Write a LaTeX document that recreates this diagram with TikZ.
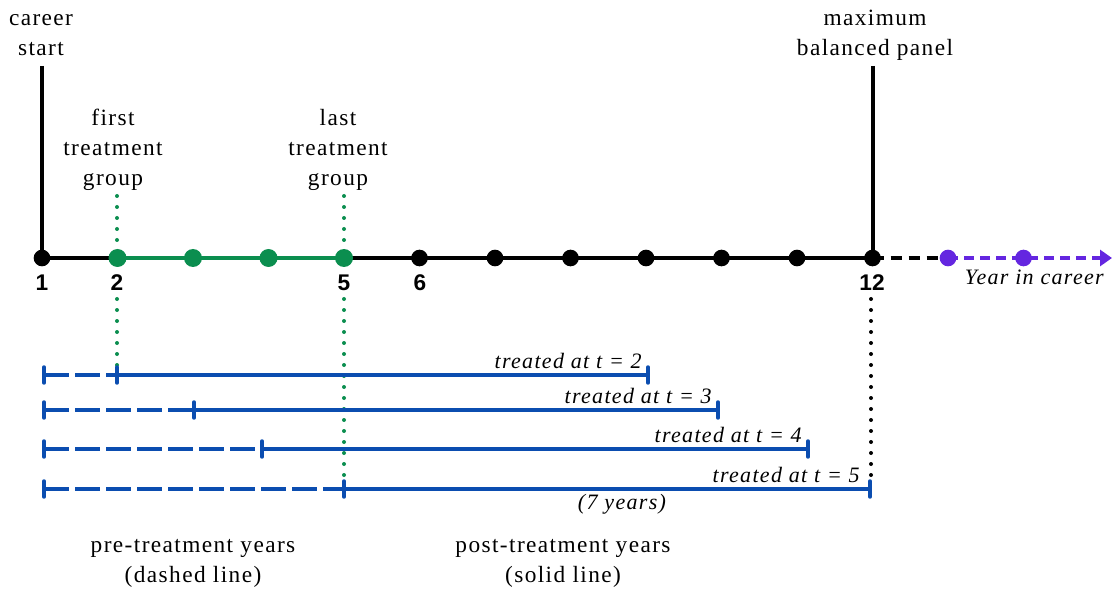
\documentclass[tikz,border=0pt]{standalone}
\usepackage{fontspec}
\setmainfont[LetterSpace=6]{Liberation Serif}
\setsansfont{Liberation Sans}
\usetikzlibrary{arrows.meta, calc, positioning}
\definecolor{TGreen}{HTML}{0B8E4F}
\definecolor{TBlue}{HTML}{0B4DB0}
\definecolor{TPurple}{HTML}{6426E0}

\begin{document}
\begin{tikzpicture}[x=0.75pt, y=-0.75pt,
  lbl/.style={font=\fontsize{17.5}{22.5}\selectfont, align=center, inner sep=0pt, anchor=base},
  itl/.style={font=\fontsize{16.5}{20}\selectfont\itshape, inner sep=0pt},
  num/.style={font=\fontsize{17}{20}\selectfont\sffamily\bfseries, inner sep=0pt, anchor=base},
  axis/.style={line width=3pt, black},
  grn/.style={line width=3pt, TGreen},
  yr/.style={circle, fill=black, inner sep=0pt, minimum size=12.5pt},
  gyr/.style={yr, fill=TGreen, minimum size=13.5pt},
  pyr/.style={yr, fill=TPurple},
  dots/.style={line width=3pt, line cap=round, dash pattern=on 0pt off 8.25pt},
  bar/.style={line width=2.6pt, TBlue},
  pre/.style={bar, dash pattern=on 18.75pt off 4.5pt},
  tick/.style={line width=2.6pt, TBlue, line cap=round},
]
\useasboundingbox (0,0) rectangle (1112,591);

% year points on the axis
\foreach \i in {1,...,14}
  \coordinate (y\i) at ({42+75.5*(\i-1)},258);
\coordinate (arrowend) at (1112,258);

% axis
\draw[axis] (y1) -- (y2);
\draw[grn] (y2) -- (y5);
\draw[axis] (y5) -- (y12);
\draw[axis, dash pattern=on 8.25pt off 5.25pt] (y12) -- (y13);
\draw[line width=3pt, TPurple, dash pattern=on 7.5pt off 4.5pt,
      -{Triangle[length=9pt, width=12pt]}] (y13) -- (arrowend);

\foreach \i in {1,6,7,8,9,10,11,12}
  \node[yr] (d\i) at (y\i) {};
\foreach \i in {2,3,4,5}
  \node[gyr] (d\i) at (y\i) {};
\foreach \i in {13,14}
  \node[pyr] (d\i) at (y\i) {};

% labels on top (base = last line)
\node[lbl] (career) at (41,56) {career\\start};
\node[lbl] (maxpanel) at (875,56) {maximum\\balanced panel};
\node[lbl] (first) at (113,186) {first\\treatment\\group};
\node[lbl] (last) at (338,186) {last\\treatment\\group};

\coordinate (careertop) at ($(y1)+(0,-192)$);
\coordinate (maxtop) at ($(y12)+(0,-192)$);
\draw[axis] (careertop) -- (d1.center);
\draw[axis] (maxtop) -- (d12.center);

% year numbers
\node[num] (n1) at (42,291) {1};
\node[num] (n2) at (117,291) {2};
\node[num] (n5) at (344,291) {5};
\node[num] (n6) at (420,291) {6};
\node[num] (n12) at (872,291) {12};
\node[itl, anchor=base east] (axislbl) at (1104,285) {Year in career};

% dotted guides
\coordinate (g2a) at (117,196);
\coordinate (g2b) at (117,250);
\coordinate (g2c) at (117,299);
\coordinate (g2d) at (117,381);
\coordinate (g5a) at (344,196);
\coordinate (g5b) at (344,250);
\coordinate (g5c) at (344,299);
\coordinate (g5d) at (344,478);
\coordinate (g12a) at (871,299);
\coordinate (g12b) at (871,478);
\draw[dots, TGreen] (g2a) -- (g2b);
\draw[dots, TGreen] (g2c) -- (g2d);
\draw[dots, TGreen] (g5a) -- (g5b);
\draw[dots, TGreen] (g5c) -- (g5d);
\draw[dots, black] (g12a) -- (g12b);

% treatment cohorts
\foreach \r/\y/\s/\e in {a/375/117/648, b/410/194/718, c/449/262/808, d/489/344/870} {
  \coordinate (s\r) at (44,\y);
  \coordinate (m\r) at (\s,\y);
  \coordinate (e\r) at (\e,\y);
  \draw[pre] (s\r) -- (m\r);
  \draw[bar] (m\r) -- (e\r);
  \foreach \p in {s\r, m\r, e\r}
    \draw[tick] ($(\p)+(0,-8)$) -- ($(\p)+(0,8)$);
}
\node[itl, anchor=base east] (ta) at ($(ea)+(-6,-6.5)$) {treated at t = 2};
\node[itl, anchor=base east] (tb) at ($(eb)+(-6,-6.5)$) {treated at t = 3};
\node[itl, anchor=base east] (tc) at ($(ec)+(-6,-6.5)$) {treated at t = 4};
\node[itl, anchor=base east] (td) at ($(ed)+(-10,-6.5)$) {treated at t = 5};
\node[itl, anchor=base] (seven) at (622,509) {(7 years)};

% legend
\node[lbl] (prelbl) at (193,582) {pre-treatment years\\(dashed line)};
\node[lbl] (postlbl) at (563,582) {post-treatment years\\(solid line)};
\end{tikzpicture}
\end{document}
